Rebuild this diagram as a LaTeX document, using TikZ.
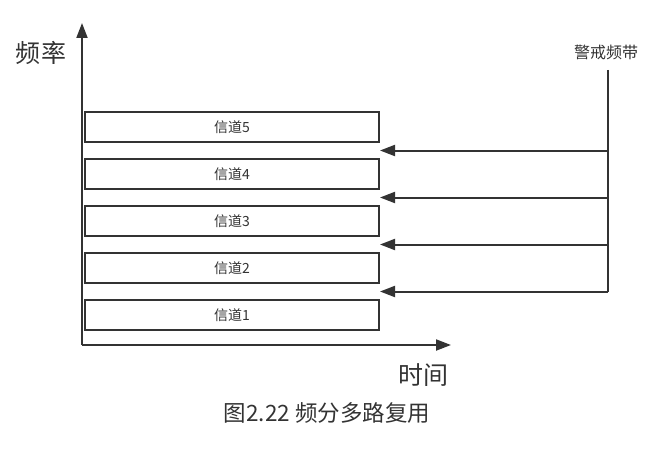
\documentclass[tikz,border=0pt]{standalone}
\usepackage{fontspec}
\setmainfont{Noto Sans CJK SC}
\usepackage{tikz}
\usetikzlibrary{positioning,calc,arrows.meta}
\definecolor{ink}{HTML}{333333}

\begin{document}
\begin{tikzpicture}[
        x=1pt, y=1pt,
        node distance=15pt,
        color=ink,
        line width=2pt,
        chan/.style={rectangle, draw, minimum width=294pt, minimum height=30pt, font=\fontsize{14}{16}\selectfont},
        axislabel/.style={font=\fontsize{25}{28}\selectfont},
        arr/.style={-{Triangle[length=15pt,width=11pt]}}
    ]
        \useasboundingbox (0,0) rectangle (660,448);

        % axes
        \coordinate (O) at (82,103);
        \coordinate (ytop) at (82,425);
        \coordinate (xend) at (451,103);
        \draw[arr] (O) -- (ytop);
        \draw[arr] (O) -- (xend);
        \node[axislabel] (freq) at (41,395) {频率};
        \node[axislabel] (time) at (423,73) {时间};

        % channels
        \node[chan] (ch1) at (232,133) {信道1};
        \node[chan] (ch2) [above=of ch1] {信道2};
        \node[chan] (ch3) [above=of ch2] {信道3};
        \node[chan] (ch4) [above=of ch3] {信道4};
        \node[chan] (ch5) [above=of ch4] {信道5};

        % guard bands
        \node[font=\fontsize{16}{18}\selectfont] (guard) at (606,396) {警戒频带};
        \coordinate (gtop) at (608,378);
        \coordinate (g1) at ($(ch2.south east)!0.5!(ch1.north east)$);
        \coordinate (g2) at ($(ch3.south east)!0.5!(ch2.north east)$);
        \coordinate (g3) at ($(ch4.south east)!0.5!(ch3.north east)$);
        \coordinate (g4) at ($(ch5.south east)!0.5!(ch4.north east)$);
        \draw (gtop) -- (gtop |- g1);
        \foreach \g in {g1,g2,g3,g4}
            \draw[arr] (gtop |- \g) -- (\g);

        \node[font=\fontsize{22.5}{26}\selectfont] (caption) at (327,35) {图2.22 频分多路复用};
    \end{tikzpicture}
\end{document}
